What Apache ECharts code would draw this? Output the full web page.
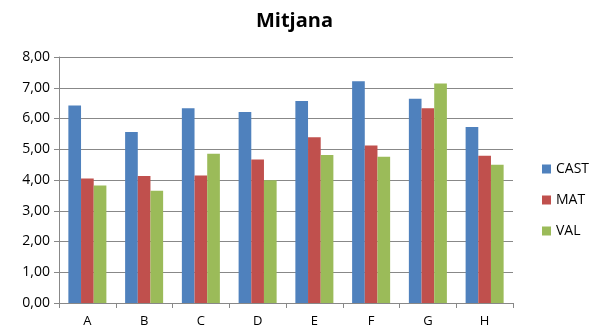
<!DOCTYPE html>
<html><head><meta charset="utf-8">
<script src="https://cdn.jsdelivr.net/npm/echarts@6/dist/echarts.min.js"></script>
<style>html,body{margin:0;padding:0;background:#fff}#c{width:589px;height:336px}</style>
</head><body><div id="c"></div>
<script>
const categories = ['A','B','C','D','E','F','G','H'];
const cast = [6.42, 5.56, 6.33, 6.21, 6.57, 7.21, 6.64, 5.72];
const mat  = [4.05, 4.13, 4.15, 4.67, 5.39, 5.12, 6.33, 4.79];
const val  = [3.82, 3.65, 4.85, 3.99, 4.81, 4.76, 7.14, 4.50];
const seriesNames = ['CAST','MAT','VAL'];
const colors = ['#4F81BD','#C0504D','#9BBB59'];
const font = 'Open Sans';
const chart = echarts.init(document.getElementById('c'), null, {renderer:'canvas'});
chart.setOption({
  animation:false,
  title:{text:'Mitjana', left:'center', top:6, textStyle:{fontFamily:font, fontSize:20, fontWeight:'bold', color:'#000'}},
  legend:{orient:'vertical', left:537, top:157, itemWidth:9, itemHeight:9, itemGap:17,
    icon:'rect', textStyle:{fontFamily:font, fontSize:14, color:'#000'}, data:seriesNames},
  grid:{left:59, right:76, top:57, bottom:33},
  xAxis:{type:'category', data:categories,
    axisLine:{lineStyle:{color:'#888'}}, axisTick:{show:true, length:5, lineStyle:{color:'#888'}},
    axisLabel:{fontFamily:font, fontSize:13, color:'#000', margin:12}},
  yAxis:{type:'value', min:0, max:8, interval:1,
    axisLine:{show:true, lineStyle:{color:'#888'}}, axisTick:{show:true, length:5, lineStyle:{color:'#888'}},
    splitLine:{lineStyle:{color:'#888'}},
    axisLabel:{fontFamily:font, fontSize:14, color:'#000', margin:9, formatter:v=>v.toFixed(2).replace('.',',')}},
  series:[
    {name:seriesNames[0], type:'bar', data:cast, itemStyle:{color:colors[0]}, barGap:'0%', barCategoryGap:'33%'},
    {name:seriesNames[1], type:'bar', data:mat, itemStyle:{color:colors[1]}, barGap:'0%', barCategoryGap:'33%'},
    {name:seriesNames[2], type:'bar', data:val, itemStyle:{color:colors[2]}, barGap:'0%', barCategoryGap:'33%'}
  ]
});
</script></body></html>
